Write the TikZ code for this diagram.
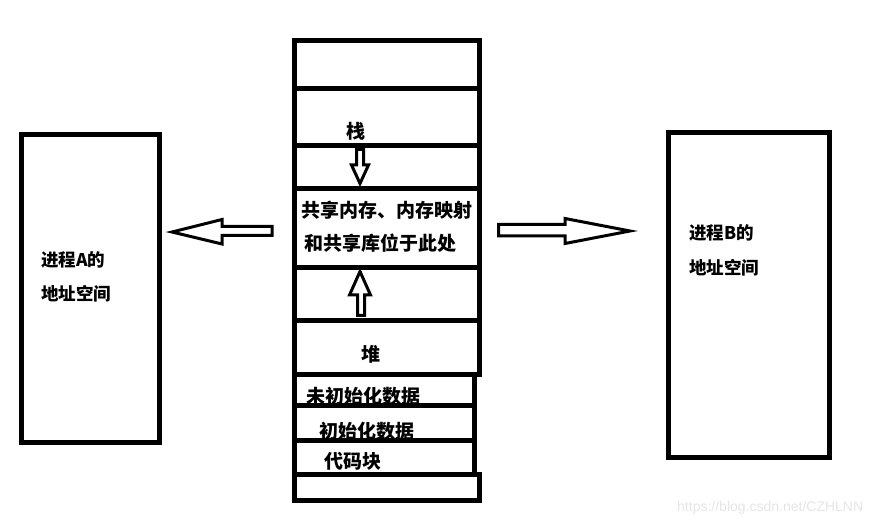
\documentclass[tikz,border=0pt]{standalone}
\usepackage{fontspec}
\newfontfamily\cjk{Noto Sans CJK SC}
\newfontfamily\markfont{Liberation Sans}
\tikzstyle{layer}=[rectangle,draw=black,line width=4.5pt,inner sep=0pt]
\tikzstyle{procbox}=[rectangle,draw=black,line width=5pt,inner sep=0pt]
\tikzstyle{hollowarrow}=[draw=black,line width=3pt,fill=white,line join=miter]
\tikzstyle{memtext}=[anchor=west,inner sep=0pt,font=\cjk\bfseries\fontsize{19}{19}\selectfont]
\tikzstyle{proctext}=[anchor=west,inner sep=0pt,font=\cjk\bfseries\fontsize{17.5}{17.5}\selectfont]
\begin{document}
\begin{tikzpicture}[x=1pt,y=-1pt]
    \useasboundingbox (0,0) rectangle (896,526);
    % The memory layout in the middle, from top to bottom
    \foreach \pos/\name/\w/\h in {{(387,64.5)/top/185/48}, {(387,117)/stack/185/57},
        {(387,167)/gapdown/185/43}, {(387,228)/shared/185/79}, {(387,294)/gapup/185/53},
        {(387,347.5)/heap/185/54}, {(384.5,390)/bss/180/31}, {(384.5,423)/data/180/35},
        {(384.5,457.5)/code/180/34}, {(387,487.5)/bottom/185/26}}
        \node[layer, minimum width=\w pt, minimum height=\h pt] (\name) at \pos {};

    % The two process address spaces
    \node[procbox, minimum width=138pt, minimum height=307.5pt] (procA) at (90.5,288.75) {};
    \node[procbox, minimum width=161pt, minimum height=325pt] (procB) at (749,295) {};

    % Texts in the layers
    \foreach \pos/\name/\label in {{(346,131)/tstack/栈}, {(301,210)/tshared/共享内存、内存映射},
        {(304,243)/tlib/和共享库位于此处}, {(361,354)/theap/堆}, {(306,396)/tbss/未初始化数据},
        {(319,431)/tdata/初始化数据}, {(324,461)/tcode/代码块}}
        \node[memtext] (\name) at \pos {\label};

    \foreach \pos/\name/\label in {{(41,260)/tA1/进程A的}, {(41,294)/tA2/地址空间},
        {(689,233)/tB1/进程B的}, {(689,268)/tB2/地址空间}}
        \node[proctext] (\name) at \pos {\label};

    % Hollow arrows: stack grows down, heap grows up, mapping to both processes
    \draw[hollowarrow] (356.5,149.5) -- (363.5,149.5) -- (363.5,165) -- (368.5,165)
        -- (360,183.5) -- (351.5,165) -- (356.5,165) -- cycle;
    \draw[hollowarrow] (357.5,315.5) -- (364.5,315.5) -- (364.5,295) -- (370.5,295)
        -- (360,271.5) -- (349.5,295) -- (357.5,295) -- cycle;
    \draw[hollowarrow] (272,226.5) -- (222,226.5) -- (222,219.5) -- (172,232)
        -- (222,244) -- (222,235.5) -- (272,235.5) -- cycle;
    \draw[hollowarrow] (498.5,224.5) -- (565,224.5) -- (565,218.5) -- (630,231)
        -- (565,243.5) -- (565,236) -- (498.5,236) -- cycle;

    % Watermark
    \node[anchor=west, inner sep=0pt, text=black!10, font=\markfont\fontsize{14}{14}\selectfont]
        (mark) at (677,508) {https://blog.csdn.net/CZHLNN};
\end{tikzpicture}
\end{document}
